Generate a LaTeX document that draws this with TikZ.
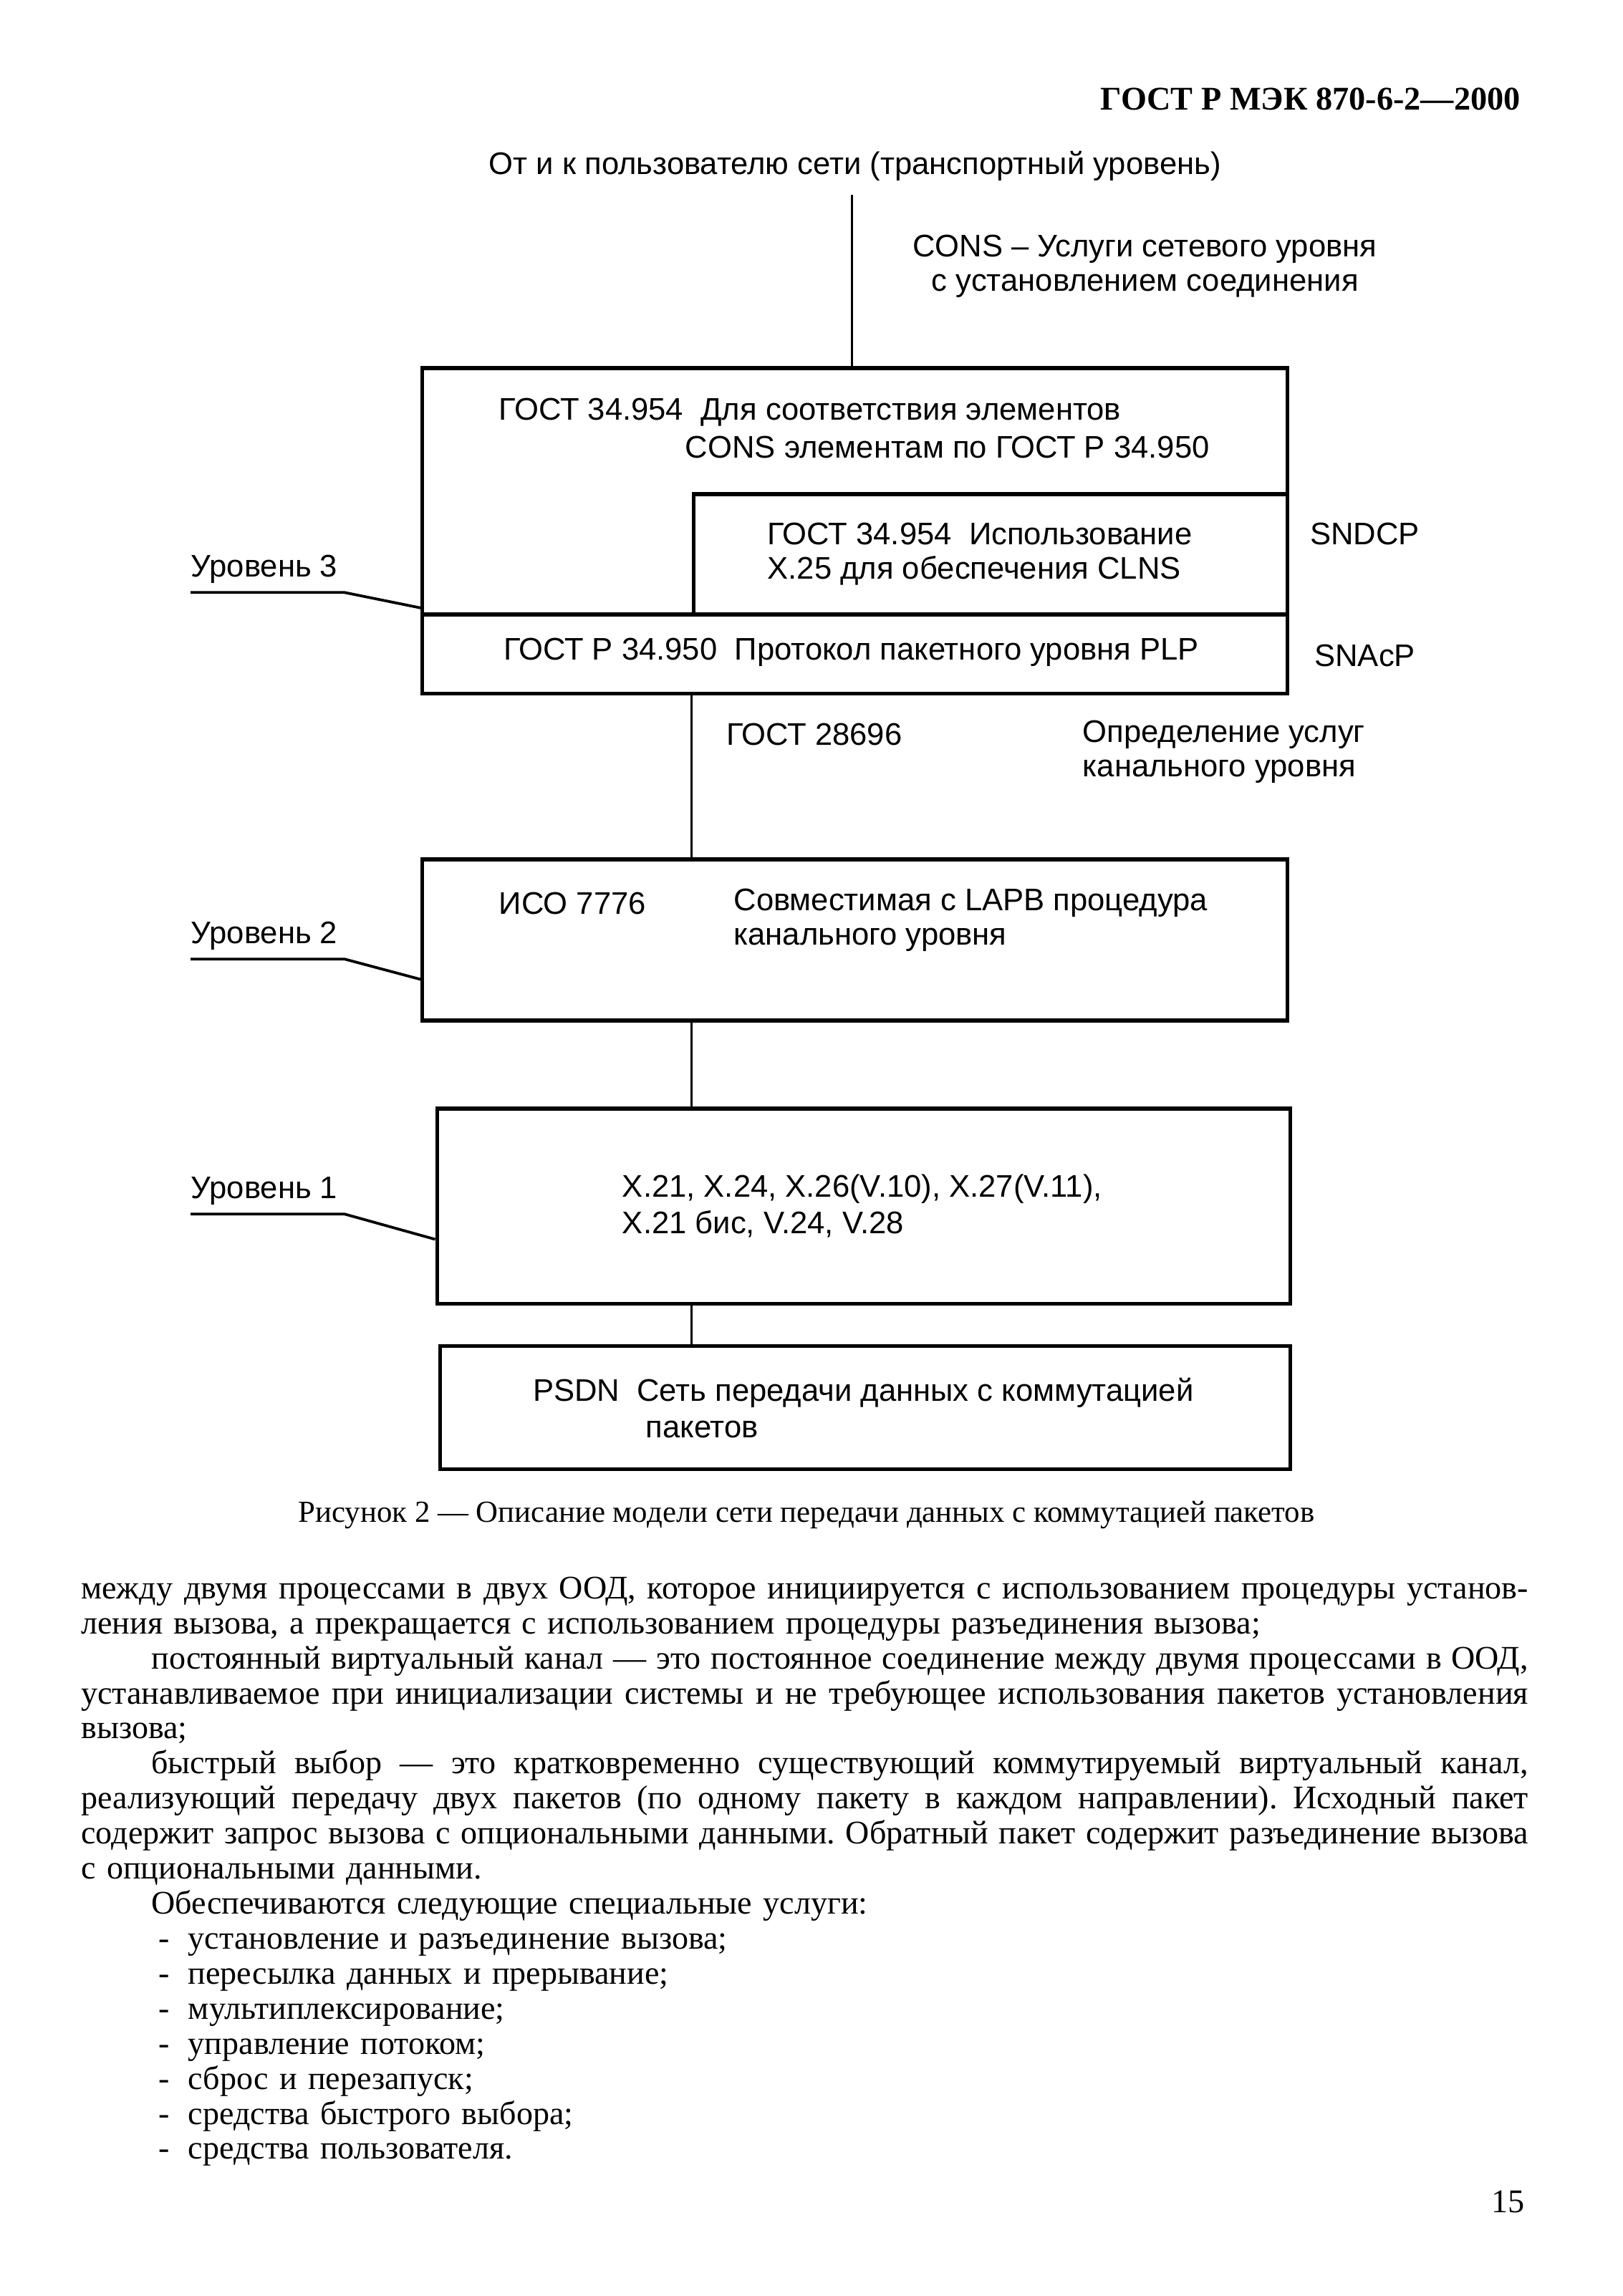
\documentclass[tikz,border=0pt]{standalone}
\usepackage{fontspec}
\setmainfont{Liberation Serif}
\newfontfamily\schemefont{Liberation Sans}
\usetikzlibrary{positioning,fit}
\frenchspacing

\newcommand{\fullline}[1]{\makebox[\linewidth][s]{\spaceskip=.25em plus .3em minus .12em\relax #1}}
\newcommand{\indline}[1]{\hspace*{9.1mm}\makebox[\dimexpr\linewidth-9.1mm][s]{\spaceskip=.25em plus .3em minus .12em\relax #1}}
\newcommand{\listline}[1]{\hspace*{10.06mm}\makebox[3.8mm][l]{-}#1}

\begin{document}
\begin{tikzpicture}[x=0.1898mm, y=-0.1898mm,
    unit/.style = {draw, line width=1.4pt, inner sep=0pt},
    lbl/.style = {inner sep=0pt, anchor=west, font=\schemefont\fontsize{11.5}{14}\selectfont},
    wire/.style = {line width=0.8pt},
    lead/.style = {line width=1pt},
    body/.style = {inner sep=0pt, anchor=north west, text width=187.3mm, align=left,
                   font=\fontsize{12.15}{12.9}\selectfont}]
  \useasboundingbox (0,0) rectangle (1106.4,1565.8);

  \node[inner sep=0pt, anchor=base east, font=\fontsize{12.2}{14}\selectfont\bfseries] (hdr) at (1037,75) {ГОСТ Р МЭК 870-6-2—2000};

  % top of the stack
  \node[lbl, anchor=center] (user) at (583,113) {От и к пользователю сети (транспортный уровень)};
  \node[lbl] (cons) at (622,170) {CONS – Услуги сетевого уровня};
  \node[lbl] (conn) at (635,195) {с установлением соединения};
  \coordinate (usr) at (581,133);

  % level 3
  \node[unit, fit={(288,251) (878,419)}] (net) {};
  \node[unit, fit={(473,337) (878,419)}] (sndcp) {};
  \node[unit, fit={(288,419) (878,473)}] (plp) {};
  \node[lbl] (net1) at (340,281) {ГОСТ 34.954~ Для соответствия элементов};
  \node[lbl] (net2) at (467,305) {CONS элементам по ГОСТ Р 34.950};
  \node[lbl] (sn1) at (523,364) {ГОСТ 34.954~ Использование};
  \node[lbl] (sn2) at (523,389) {X.25 для обеспечения CLNS};
  \node[lbl] (plptxt) at (343,445) {ГОСТ Р 34.950~ Протокол пакетного уровня PLP};
  \node[lbl] (sndcpname) at (893,364) {SNDCP};
  \node[lbl] (snacp) at (896,447) {SNAcP};
  \node[lbl] (lvl3) at (130,388) {Уровень 3};

  \node[lbl] (g28696) at (495,501) {ГОСТ 28696};
  \node[lbl] (def1) at (738,501) {Определение услуг};
  \node[lbl] (def2) at (738,526) {канального уровня};

  % level 2
  \node[unit, fit={(288,586) (878,696)}] (lapb) {};
  \node[lbl] (iso) at (340,616) {ИСО 7776};
  \node[lbl] (lapb1) at (500,616) {Совместимая с LAPB процедура};
  \node[lbl] (lapb2) at (500,641) {канального уровня};
  \node[lbl] (lvl2) at (130,638) {Уровень 2};

  % level 1
  \node[unit, fit={(298,756) (880,889)}] (phys) {};
  \node[lbl] (phys1) at (424,811) {X.21, X.24, X.26(V.10), X.27(V.11),};
  \node[lbl] (phys2) at (424,835) {X.21 бис, V.24, V.28};
  \node[lbl] (lvl1) at (130,812) {Уровень 1};

  \node[unit, fit={(300,918) (880,1002)}] (psdn) {};
  \node[lbl] (psdn1) at (363,950) {PSDN~ Сеть передачи данных с коммутацией};
  \node[lbl] (psdn2) at (440,975) {пакетов};

  % connections
  \draw[wire] (usr) -- (usr |- net.north);
  \draw[wire] (sndcp.west |- plp.south) -- (sndcp.west |- lapb.north);
  \draw[wire] (sndcp.west |- lapb.south) -- (sndcp.west |- phys.north);
  \draw[wire] (sndcp.west |- phys.south) -- (sndcp.west |- psdn.north);

  \draw[lead] ([yshift=-1.15mm]lvl3.south west) -- ++(105,0) -- ([yshift=0.6mm]plp.north west);
  \draw[lead] ([yshift=-1.15mm]lvl2.south west) -- ++(105,0) -- ([yshift=-5.1mm]lapb.west);
  \draw[lead] ([yshift=-1.15mm]lvl1.south west) -- ++(105,0) -- ([yshift=-4.3mm]phys.west);

  \node[inner sep=0pt, font=\fontsize{11.3}{13}\selectfont] (caption) at (550,1033) {Рисунок 2 — Описание модели сети передачи данных с коммутацией пакетов};

  \node[body] (text) at (55,1075) {%
\fullline{между двумя процессами в двух ООД, которое инициируется с использованием процедуры установ-}\\
ления вызова, а прекращается с использованием процедуры разъединения вызова;\\
\indline{постоянный виртуальный канал — это постоянное соединение между двумя процессами в ООД,}\\
\fullline{устанавливаемое при инициализации системы и не требующее использования пакетов установления}\\
вызова;\\
\indline{быстрый выбор — это кратковременно существующий коммутируемый виртуальный канал,}\\
\fullline{реализующий передачу двух пакетов (по одному пакету в каждом направлении). Исходный пакет}\\
\fullline{содержит запрос вызова с опциональными данными. Обратный пакет содержит разъединение вызова}\\
с опциональными данными.\\
\hspace*{9.1mm}Обеспечиваются следующие специальные услуги:\\
\listline{установление и разъединение вызова;}\\
\listline{пересылка данных и прерывание;}\\
\listline{мультиплексирование;}\\
\listline{управление потоком;}\\
\listline{сброс и перезапуск;}\\
\listline{средства быстрого выбора;}\\
\listline{средства пользователя.}};

  \node[inner sep=0pt, anchor=base east, font=\fontsize{12.2}{14}\selectfont] (page) at (1040,1509) {15};
\end{tikzpicture}
\end{document}
